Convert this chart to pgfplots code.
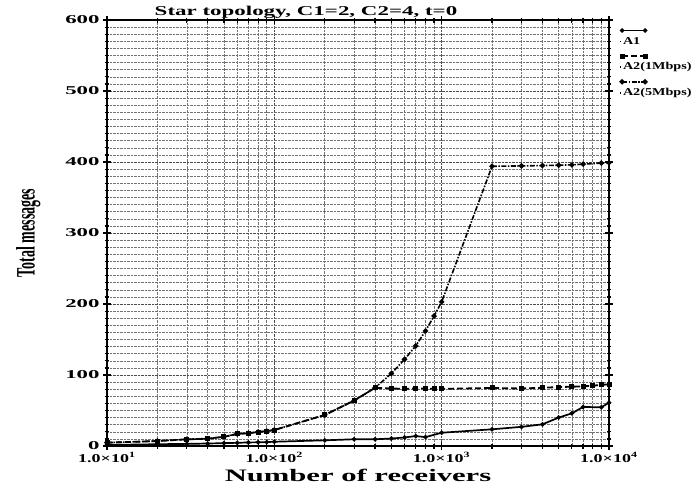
\documentclass[border=0pt]{standalone}
\usepackage{fontspec}
\setmainfont{Liberation Serif}
\usepackage{graphicx}
\usepackage{pgfplots}
\pgfplotsset{compat=1.18}
\newcommand\wide[2][1.55]{\scalebox{#1}[1]{#2}}
\newcommand\xt[1]{\wide[1.5]{\fontsize{12}{12}\selectfont\bfseries 1.0\texttimes10\textsuperscript{#1}}}
\newcommand\yt[1]{\wide[1.9]{\fontsize{12}{12}\selectfont\bfseries #1}}
\begin{document}
\begin{tikzpicture}
\useasboundingbox (-107pt,-42pt) rectangle (590pt,446pt);
\begin{axis}[
  scale only axis,
  width=502pt, height=426pt,
  xmode=log, xmin=10, xmax=10000,
  ymin=0, ymax=600,
  xtick={10,100,1000,10000},
  xticklabels={\xt{1},\xt{2},\xt{3},\xt{4}},
  xticklabel style={yshift=-2pt, inner ysep=0.5pt},
  ytick={0,100,200,300,400,500,600},
  yticklabels={\yt{0},\yt{100},\yt{200},\yt{300},\yt{400},\yt{500},\yt{600}},
  yticklabel style={inner ysep=0.5pt},
  minor y tick num=9,
  grid=both,
  major grid style={densely dotted, black!70, line width=0.8pt},
  minor grid style={densely dotted, black!55, line width=0.6pt},
  axis line style={line width=1.8pt},
  tick style={black, line width=1.2pt},
  tick align=center,
  major tick length=8pt, minor tick length=5pt,
  title={\wide[1.7]{\fontsize{13.5}{14}\selectfont\bfseries Star topology, C1=2, C2=4, t=0}},
  title style={yshift=-8pt, xshift=-52pt},
  xlabel={\wide[1.75]{\fontsize{17.5}{18}\selectfont\bfseries Number of receivers}},
  xlabel style={yshift=-5pt, inner ysep=0.5pt},
  ylabel={\scalebox{1}[1.9]{\fontsize{14}{15}\selectfont\bfseries Total messages}},
  ylabel style={yshift=18pt},
  legend style={at={(1.0,1.0)}, anchor=north west, draw=none, fill=none,
    row sep=15pt, inner sep=0pt, xshift=10pt, yshift=-16pt,
    nodes={inner sep=1pt, anchor=west}},
  legend cell align=left,
  legend image code/.code={
    \draw[#1, overlay] plot coordinates {(2pt,11pt) (25pt,11pt)};
    \path (0pt,0pt) -- (1pt,0pt);
  },
]
\addplot[black, line width=1.7pt, mark=*, mark size=1.3pt] coordinates {
(10,1.5)(20,2.5)(30,3)(40,3.5)(50,4)(60,4.5)(70,5)(80,5.2)(90,5.5)(100,6)
(200,8)(300,9.5)(400,9.5)(500,10.5)(600,12)(700,14)(800,12.5)(1000,18.7)
(2000,23.5)(3000,27)(4000,30.5)(5000,40)(6000,46)(7000,55)(9000,54.5)(10000,61)};
\addlegendentry{\wide[1.35]{\fontsize{10.5}{11}\selectfont\bfseries A1}}
\addplot[black, line width=1.8pt, dash pattern=on 6pt off 3pt, mark=square*, mark size=1.6pt, mark options={solid}] coordinates {
(10,4.7)(20,7)(30,9.4)(40,10.3)(50,13)(60,17)(70,18)(80,19.7)(90,21)(100,22.5)
(200,43.7)(300,64)(400,82)(500,81)(600,80.5)(700,81)(800,81)(900,80.5)(1000,80.5)
(2000,81.7)(3000,81)(4000,82)(5000,83)(6000,83.5)(7000,84)(8000,85)(9000,86)(10000,87)};
\addlegendentry{\wide[1.35]{\fontsize{10.5}{11}\selectfont\bfseries A2(1Mbps)}}
\addplot[black, line width=1.6pt, dash pattern=on 5pt off 1.5pt on 1.5pt off 1.5pt, mark=*, mark size=1.8pt, mark options={solid}] coordinates {
(10,4.7)(20,7)(30,9.4)(40,10.3)(50,13)(60,17)(70,18)(80,19.7)(90,21)(100,22.5)
(200,43.7)(300,64)(400,82)(500,102)(600,122)(700,141)(800,162)(900,183)(1000,203)
(2000,394)(3000,394.5)(4000,395)(5000,395.5)(6000,396)(7000,397)(9000,398.5)(10000,399)};
\addlegendentry{\wide[1.35]{\fontsize{10.5}{11}\selectfont\bfseries A2(5Mbps)}}
\end{axis}
\end{tikzpicture}
\end{document}
